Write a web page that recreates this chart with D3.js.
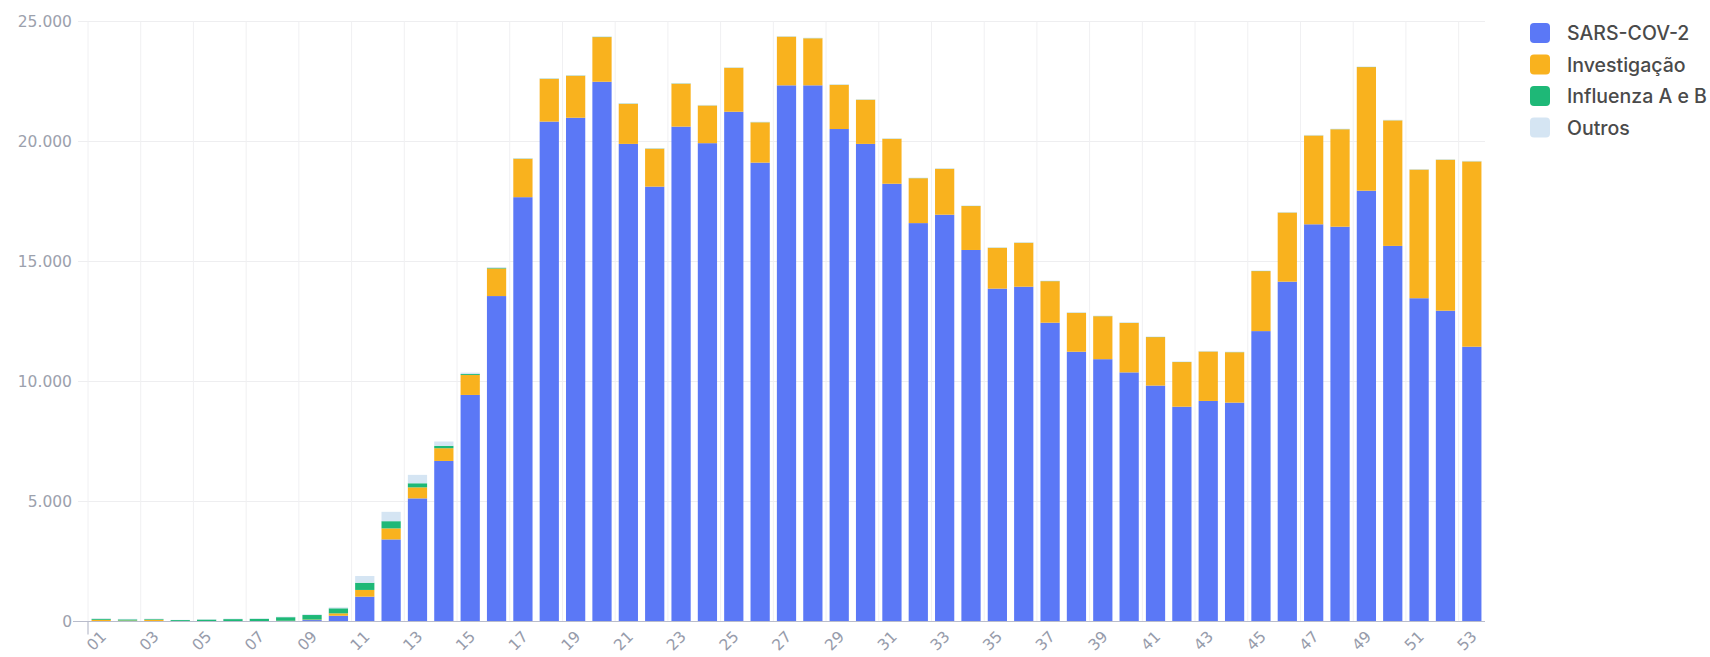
<!DOCTYPE html>
<html>
<head>
<meta charset="utf-8">
<script src="https://cdn.jsdelivr.net/npm/d3@7"></script>
<style>
  body { margin: 0; background: #fff; }
  svg text { font-family: Inter, Roboto, "Noto Sans", sans-serif; }
  .axis-label { font-family: "DejaVu Sans", Inter, sans-serif; }
</style>
</head>
<body>
<div id="chart"></div>
<script>
var weeks = ["01","02","03","04","05","06","07","08","09","10","11","12","13","14","15","16","17","18","19","20",
  "21","22","23","24","25","26","27","28","29","30","31","32","33","34","35","36","37","38","39","40",
  "41","42","43","44","45","46","47","48","49","50","51","52","53"];

var sars = [0, 0, 0, 0, 0, 0, 0, 10, 60, 240, 1035, 3420, 5130, 6690, 9440, 13560, 17680, 20830, 20990, 22490,
  19900, 18120, 20620, 19930, 21240, 19120, 22340, 22340, 20520, 19900, 18240, 16600, 16950, 15480, 13870, 13950, 12450, 11240, 10930, 10380,
  9830, 8950, 9190, 9120, 12100, 14160, 16550, 16450, 17950, 15650, 13470, 12950, 11450];

var investigacao = [70, 40, 70, 10, 15, 15, 15, 20, 20, 100, 280, 460, 460, 530, 830, 1150, 1600, 1780, 1750, 1860,
  1670, 1580, 1790, 1570, 1830, 1680, 2030, 1960, 1840, 1840, 1870, 1870, 1910, 1830, 1700, 1830, 1730, 1620, 1790, 2060,
  2020, 1860, 2060, 2100, 2500, 2880, 3700, 4060, 5150, 5230, 5360, 6290, 7720];

var influenza = [40, 50, 30, 50, 65, 85, 95, 150, 190, 210, 300, 300, 170, 100, 40, 20, 10, 10, 10, 10,
  10, 10, 10, 5, 5, 5, 5, 5, 5, 5, 5, 5, 5, 5, 5, 5, 5, 5, 5, 5,
  5, 5, 5, 5, 5, 5, 5, 5, 5, 5, 5, 5, 5];

var outros = [20, 20, 20, 10, 15, 20, 20, 20, 30, 40, 280, 390, 350, 180, 60, 40, 20, 20, 20, 20,
  20, 20, 20, 20, 20, 20, 20, 20, 20, 20, 20, 20, 20, 20, 20, 20, 20, 20, 20, 20,
  20, 20, 20, 20, 20, 20, 20, 20, 20, 20, 20, 20, 20];

var seriesNames = ["SARS-COV-2", "Investigação", "Influenza A e B", "Outros"];
var seriesColors = ["#5b78f6", "#f9b21e", "#1eb877", "#d5e5f3"];
var yTicks = [0, 5000, 10000, 15000, 20000, 25000];

var width = 1710, height = 657;
var margin = { top: 21.5, left: 88, right: 225, bottom: 35.5 };

// table for the stack
var table = weeks.map(function (w, i) {
  return { week: w, s0: sars[i], s1: investigacao[i], s2: influenza[i], s3: outros[i] };
});
var keys = ["s0", "s1", "s2", "s3"];
var stacked = d3.stack().keys(keys)(table);

var svg = d3.select("#chart").append("svg")
  .attr("width", width)
  .attr("height", height);

var x = d3.scaleBand()
  .domain(weeks)
  .range([margin.left, width - margin.right])
  .paddingInner(0.27)
  .paddingOuter(0.135);

var y = d3.scaleLinear()
  .domain([0, 25000])
  .range([height - margin.bottom, margin.top]);

var fmt = function (d) { return d3.format(",")(d).replace(/,/g, "."); };

// horizontal grid
svg.append("g").selectAll("line")
  .data(yTicks.slice(1))
  .enter().append("line")
  .attr("x1", margin.left - 10)
  .attr("x2", width - margin.right)
  .attr("y1", function (d) { return y(d); })
  .attr("y2", function (d) { return y(d); })
  .style("stroke", "#eeeef0")
  .style("stroke-width", 1);

// vertical grid, on the left edge of odd weeks
var step = x.step();
var oddWeeks = weeks.filter(function (d, i) { return i % 2 == 0; });
svg.append("g").selectAll("line")
  .data(oddWeeks)
  .enter().append("line")
  .attr("x1", function (d) { return x(d) - step * x.paddingInner() / 2; })
  .attr("x2", function (d) { return x(d) - step * x.paddingInner() / 2; })
  .attr("y1", y(25000))
  .attr("y2", y(0))
  .style("stroke", "#f0f0f2")
  .style("stroke-width", 1);

// bars
svg.append("g").selectAll("g")
  .data(stacked)
  .enter().append("g")
  .style("fill", function (d, i) { return seriesColors[i]; })
  .selectAll("rect")
  .data(function (d) { return d; })
  .enter().append("rect")
  .attr("x", function (d) { return x(d.data.week); })
  .attr("width", x.bandwidth())
  .attr("y", function (d) { return y(d[1]); })
  .attr("height", function (d) { return y(d[0]) - y(d[1]); });

// baseline + small ticks
var x0 = x(weeks[0]) - step * x.paddingInner() / 2;
svg.append("line")
  .attr("x1", margin.left - 15).attr("x2", width - margin.right)
  .attr("y1", y(0)).attr("y2", y(0))
  .style("stroke", "#b9bccb").style("stroke-width", 1.2);
svg.append("line")
  .attr("x1", x0).attr("x2", x0)
  .attr("y1", y(0)).attr("y2", y(0) + 13)
  .style("stroke", "#b9bccb").style("stroke-width", 1.2);

// y labels
svg.append("g").selectAll("text")
  .data(yTicks)
  .enter().append("text")
  .attr("class", "axis-label")
  .attr("x", margin.left - 16)
  .attr("y", function (d) { return y(d); })
  .attr("dy", "0.36em")
  .style("text-anchor", "end")
  .style("font-size", "15.5px")
  .style("fill", "#9ca1ad")
  .text(fmt);

// x labels
svg.append("g").selectAll("text")
  .data(oddWeeks)
  .enter().append("text")
  .attr("class", "axis-label")
  .attr("transform", function (d) {
    return "translate(" + (x(d) + x.bandwidth() / 2 + 2) + "," + (y(0) + 12) + ") rotate(-45)";
  })
  .attr("dy", "0.36em")
  .style("text-anchor", "end")
  .style("font-size", "15.5px")
  .style("fill", "#979cab")
  .text(function (d) { return d; });

// legend
var legend = svg.append("g").selectAll("g")
  .data(seriesNames)
  .enter().append("g")
  .attr("transform", function (d, i) { return "translate(1530," + (23 + i * 31.5) + ")"; });

legend.append("rect")
  .attr("width", 20).attr("height", 20).attr("rx", 4)
  .style("fill", function (d, i) { return seriesColors[i]; });

legend.append("text")
  .attr("x", 37).attr("y", 10).attr("dy", "0.36em")
  .style("font-size", "19.5px")
  .style("font-weight", 500)
  .style("fill", "#4a4a4a")
  .text(function (d) { return d; });
</script>
</body>
</html>
